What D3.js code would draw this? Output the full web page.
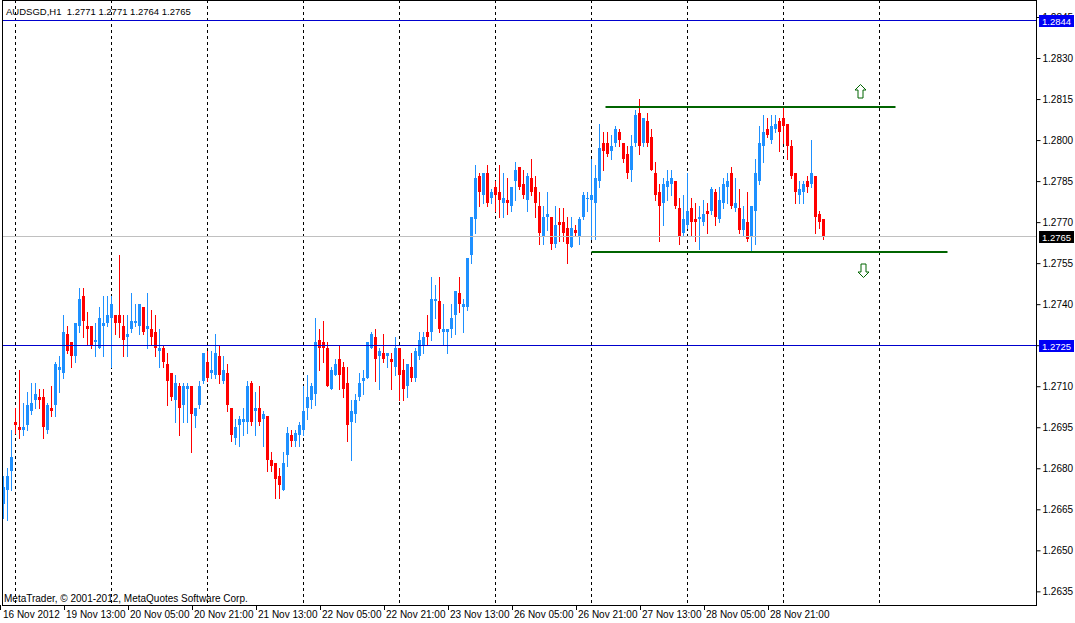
<!DOCTYPE html>
<html>
<head>
<meta charset="utf-8">
<script src="https://cdn.jsdelivr.net/npm/d3@7"></script>
<style>
  body { margin: 0; background: #fff; }
  svg { display: block; }
  text { font-family: "Liberation Sans", Arial, sans-serif; font-size: 10px; fill: #000; white-space: pre; }
</style>
</head>
<body>
<div id="chart"></div>
<script>
// AUDSGD, H1 - one value per hourly bar, first bar is 16 Nov 2012 21:00
var opens = [
  1.2667,1.2672,1.2679,1.2697,1.2695,1.2694,1.2696,1.2701,1.2705,1.2706,
  1.2706,1.2694,1.2702,1.2703,1.2716,1.2715,1.2729,1.2726,1.2721,1.2732,
  1.2743,1.2732,1.2732,1.2726,1.2724,1.2732,1.2733,1.2735,1.2736,1.2736,
  1.2732,1.2728,1.2731,1.2733,1.2732,1.2739,1.2731,1.2731,1.2730,1.2723,
  1.2724,1.2718,1.2715,1.2705,1.2710,1.2703,1.2709,1.2710,1.2699,1.2703,
  1.2712,1.2719,1.2715,1.2714,1.2721,1.2712,1.2715,1.2702,1.2691,1.2696,
  1.2697,1.2697,1.2711,1.2701,1.2702,1.2698,1.2699,1.2683,1.2682,1.2677,
  1.2672,1.2685,1.2692,1.2690,1.2692,1.2694,1.2702,1.2705,1.2707,1.2727,
  1.2726,1.2724,1.2709,1.2714,1.2720,1.2717,1.2711,1.2697,1.2700,1.2706,
  1.2712,1.2713,1.2724,1.2728,1.2721,1.2722,1.2721,1.2720,1.2717,1.2724,
  1.2716,1.2710,1.2717,1.2713,1.2721,1.2725,1.2730,1.2730,1.2741,1.2741,
  1.2730,1.2730,1.2731,1.2736,1.2744,1.2739,1.2739,1.2758,1.2771,1.2787,
  1.2780,1.2788,1.2779,1.2783,1.2781,1.2777,1.2778,1.2776,1.2785,1.2790,
  1.2784,1.2778,1.2786,1.2783,1.2776,1.2765,1.2772,1.2772,1.2762,1.2770,
  1.2770,1.2768,1.2761,1.2767,1.2765,1.2772,1.2779,1.2778,1.2777,1.2785,
  1.2799,1.2799,1.2796,1.2799,1.2803,1.2799,1.2795,1.2789,1.2799,1.2810,
  1.2799,1.2807,1.2801,1.2788,1.2781,1.2777,1.2783,1.2784,1.2785,1.2775,
  1.2766,1.2769,1.2775,1.2771,1.2771,1.2770,1.2774,1.2774,1.2781,1.2771,
  1.2777,1.2783,1.2788,1.2775,1.2775,1.2767,1.2770,1.2765,1.2774,1.2785,
  1.2798,1.2804,1.2800,1.2804,1.2807,1.2808,1.2806,1.2798,1.2788,1.2780,
  1.2781,1.2785,1.2784,1.2787,1.2773,1.2771
];
var highs = [
  1.2677,1.2680,1.2694,1.2702,1.2716,1.2704,1.2708,1.2711,1.2711,1.2709,
  1.2709,1.2704,1.2710,1.2719,1.2721,1.2736,1.2732,1.2726,1.2733,1.2746,
  1.2746,1.2737,1.2732,1.2733,1.2739,1.2743,1.2743,1.2743,1.2736,1.2758,
  1.2736,1.2736,1.2744,1.2740,1.2740,1.2739,1.2744,1.2738,1.2736,1.2731,
  1.2725,1.2722,1.2715,1.2714,1.2711,1.2711,1.2711,1.2710,1.2702,1.2712,
  1.2722,1.2723,1.2723,1.2729,1.2725,1.2721,1.2718,1.2702,1.2698,1.2699,
  1.2702,1.2712,1.2712,1.2708,1.2710,1.2701,1.2699,1.2686,1.2682,1.2680,
  1.2686,1.2695,1.2694,1.2694,1.2697,1.2710,1.2714,1.2711,1.2735,1.2731,
  1.2734,1.2726,1.2717,1.2720,1.2725,1.2719,1.2717,1.2705,1.2707,1.2715,
  1.2716,1.2726,1.2730,1.2731,1.2724,1.2729,1.2722,1.2722,1.2728,1.2724,
  1.2720,1.2718,1.2722,1.2724,1.2730,1.2730,1.2736,1.2750,1.2747,1.2750,
  1.2740,1.2731,1.2740,1.2745,1.2750,1.2742,1.2757,1.2772,1.2791,1.2788,
  1.2788,1.2791,1.2782,1.2785,1.2791,1.2788,1.2786,1.2783,1.2792,1.2790,
  1.2789,1.2788,1.2793,1.2787,1.2781,1.2776,1.2781,1.2772,1.2776,1.2775,
  1.2775,1.2772,1.2772,1.2769,1.2772,1.2781,1.2781,1.2793,1.2791,1.2806,
  1.2803,1.2803,1.2802,1.2805,1.2804,1.2799,1.2798,1.2802,1.2811,1.2815,
  1.2808,1.2810,1.2804,1.2792,1.2784,1.2786,1.2789,1.2789,1.2785,1.2779,
  1.2780,1.2788,1.2779,1.2777,1.2776,1.2778,1.2777,1.2783,1.2782,1.2783,
  1.2786,1.2788,1.2790,1.2786,1.2782,1.2776,1.2781,1.2776,1.2793,1.2805,
  1.2809,1.2808,1.2809,1.2809,1.2808,1.2812,1.2806,1.2800,1.2788,1.2785,
  1.2785,1.2787,1.2800,1.2787,1.2774,1.2771
];
var lows = [
  1.2662,1.2661,1.2672,1.2693,1.2691,1.2692,1.2694,1.2700,1.2702,1.2702,
  1.2691,1.2693,1.2699,1.2699,1.2708,1.2713,1.2722,1.2717,1.2719,1.2730,
  1.2728,1.2725,1.2724,1.2721,1.2724,1.2721,1.2732,1.2717,1.2729,1.2728,
  1.2721,1.2721,1.2730,1.2732,1.2729,1.2729,1.2724,1.2725,1.2721,1.2717,
  1.2717,1.2703,1.2705,1.2697,1.2692,1.2697,1.2697,1.2686,1.2695,1.2702,
  1.2711,1.2712,1.2713,1.2713,1.2711,1.2711,1.2701,1.2690,1.2689,1.2688,
  1.2692,1.2693,1.2696,1.2692,1.2696,1.2688,1.2679,1.2679,1.2669,1.2669,
  1.2672,1.2681,1.2688,1.2688,1.2688,1.2692,1.2698,1.2702,1.2703,1.2716,
  1.2719,1.2710,1.2709,1.2714,1.2709,1.2706,1.2690,1.2683,1.2697,1.2705,
  1.2707,1.2713,1.2724,1.2712,1.2709,1.2719,1.2717,1.2709,1.2714,1.2705,
  1.2705,1.2706,1.2712,1.2712,1.2720,1.2722,1.2725,1.2727,1.2735,1.2730,
  1.2725,1.2722,1.2728,1.2729,1.2737,1.2730,1.2738,1.2755,1.2766,1.2776,
  1.2777,1.2776,1.2777,1.2774,1.2772,1.2772,1.2773,1.2774,1.2778,1.2782,
  1.2779,1.2774,1.2780,1.2772,1.2762,1.2762,1.2767,1.2760,1.2761,1.2763,
  1.2763,1.2755,1.2761,1.2765,1.2762,1.2771,1.2774,1.2764,1.2764,1.2783,
  1.2789,1.2794,1.2793,1.2798,1.2798,1.2792,1.2786,1.2785,1.2798,1.2795,
  1.2798,1.2798,1.2789,1.2778,1.2763,1.2769,1.2778,1.2780,1.2775,1.2762,
  1.2765,1.2768,1.2765,1.2763,1.2760,1.2769,1.2766,1.2773,1.2769,1.2770,
  1.2775,1.2777,1.2775,1.2774,1.2766,1.2765,1.2763,1.2759,1.2762,1.2784,
  1.2792,1.2801,1.2799,1.2803,1.2796,1.2799,1.2793,1.2786,1.2777,1.2777,
  1.2777,1.2781,1.2783,1.2766,1.2768,1.2764
];
var closes = [
  1.2673,1.2677,1.2684,1.2696,1.2694,1.2695,1.2703,1.2704,1.2707,1.2705,
  1.2695,1.2703,1.2701,1.2718,1.2717,1.2730,1.2723,1.2721,1.2733,1.2742,
  1.2734,1.2731,1.2725,1.2727,1.2735,1.2733,1.2736,1.2740,1.2733,1.2733,
  1.2727,1.2729,1.2734,1.2734,1.2740,1.2730,1.2732,1.2728,1.2724,1.2724,
  1.2719,1.2712,1.2706,1.2711,1.2702,1.2710,1.2710,1.2700,1.2702,1.2710,
  1.2722,1.2713,1.2716,1.2722,1.2714,1.2716,1.2703,1.2692,1.2695,1.2698,
  1.2698,1.2710,1.2697,1.2702,1.2697,1.2700,1.2683,1.2681,1.2676,1.2674,
  1.2682,1.2693,1.2690,1.2693,1.2696,1.2701,1.2706,1.2710,1.2726,1.2724,
  1.2724,1.2710,1.2716,1.2718,1.2714,1.2709,1.2696,1.2701,1.2705,1.2711,
  1.2713,1.2726,1.2729,1.2720,1.2723,1.2720,1.2722,1.2719,1.2724,1.2714,
  1.2709,1.2718,1.2713,1.2723,1.2727,1.2728,1.2728,1.2742,1.2742,1.2731,
  1.2731,1.2731,1.2735,1.2745,1.2740,1.2740,1.2757,1.2772,1.2786,1.2781,
  1.2788,1.2777,1.2781,1.2780,1.2778,1.2779,1.2777,1.2783,1.2789,1.2783,
  1.2780,1.2787,1.2781,1.2777,1.2766,1.2772,1.2773,1.2762,1.2769,1.2769,
  1.2766,1.2762,1.2768,1.2766,1.2771,1.2780,1.2779,1.2780,1.2786,1.2797,
  1.2796,1.2795,1.2798,1.2804,1.2800,1.2793,1.2788,1.2798,1.2809,1.2798,
  1.2808,1.2799,1.2789,1.2780,1.2776,1.2784,1.2785,1.2786,1.2776,1.2765,
  1.2771,1.2774,1.2770,1.2770,1.2772,1.2773,1.2773,1.2782,1.2772,1.2778,
  1.2784,1.2785,1.2776,1.2777,1.2767,1.2771,1.2764,1.2776,1.2788,1.2799,
  1.2803,1.2802,1.2805,1.2806,1.2803,1.2805,1.2798,1.2787,1.2781,1.2782,
  1.2784,1.2783,1.2788,1.2772,1.2770,1.2765
];

// Axis labels
var timeLabels = ["16 Nov 2012", "19 Nov 13:00", "20 Nov 05:00", "20 Nov 21:00", "21 Nov 13:00",
                  "22 Nov 05:00", "22 Nov 21:00", "23 Nov 13:00", "26 Nov 05:00", "26 Nov 21:00",
                  "27 Nov 13:00", "28 Nov 05:00", "28 Nov 21:00"];
var timeLabelBars = [0, 16, 32, 48, 64, 80, 96, 112, 128, 144, 160, 176, 192];
var dayStartBars = [3, 27, 51, 75, 99, 123, 147, 171, 195, 219];
var priceTicks = [1.2635, 1.2650, 1.2665, 1.2680, 1.2695, 1.2710, 1.2725, 1.2740,
                  1.2755, 1.2770, 1.2785, 1.2800, 1.2815, 1.2830, 1.2845];

// Objects on the chart
var hLinePrices = [1.2844, 1.2725];
var trendPrices = [1.2812, 1.2759],
    trendFrom = [150.5, 147],
    trendTo = [223, 236];
var arrowBars = [214.1, 214.9],
    arrowPrices = [1.2818, 1.27525],
    arrowDirs = ["up", "down"];

var title = "AUDSGD,H1  1.2771 1.2771 1.2764 1.2765",
    copyright = "MetaTrader, \u00a9 2001-2012, MetaQuotes Software Corp.";

// Size
var W = 1075, H = 623,
    plot = {left: 2, right: 1036, top: 0, bottom: 605};

// Colors
var colors = {bull: "#1e90ff", bear: "#ff0000", line: "#0000cd", box: "#0000f5",
              bid: "#c0c0c0", trend: "#006400", grid: "#000"};

var bars = opens.map(function(o, i) {
  return {i: i, o: o, h: highs[i], l: lows[i], c: closes[i]};
});

var x = d3.scaleLinear().domain([0, 258]).range([3.5, 1035.5]);
var y = d3.scaleLinear().domain([1.2635, 1.2845]).range([591.35, 17.0]);

var svg = d3.select("#chart").append("svg")
  .attr("width", W)
  .attr("height", H);

svg.append("defs").append("clipPath")
  .attr("id", "plot-clip")
  .append("rect")
    .attr("x", plot.left)
    .attr("y", plot.top)
    .attr("width", plot.right - plot.left)
    .attr("height", plot.bottom - plot.top);

var area = svg.append("g").attr("clip-path", "url(#plot-clip)");

// Day separators
area.selectAll(".grid")
  .data(dayStartBars)
  .enter().append("line")
    .attr("class", "grid")
    .attr("x1", function(d) { return x(d); })
    .attr("x2", function(d) { return x(d); })
    .attr("y1", plot.top)
    .attr("y2", plot.bottom)
    .attr("stroke", colors.grid)
    .attr("stroke-width", 1)
    .attr("stroke-dasharray", "3,3")
    .attr("shape-rendering", "crispEdges");

// Candles
var candle = area.selectAll(".candle")
  .data(bars)
  .enter().append("g")
    .attr("class", "candle")
    .attr("fill", function(d) { return d.c >= d.o ? colors.bull : colors.bear; });

candle.append("rect")
  .attr("x", function(d) { return x(d.i) - 0.5; })
  .attr("width", 1)
  .attr("y", function(d) { return Math.round(y(d.h)); })
  .attr("height", function(d) { return Math.round(y(d.l)) - Math.round(y(d.h)) + 1; })
  .attr("shape-rendering", "crispEdges");

candle.append("rect")
  .attr("x", function(d) { return x(d.i) - 1.5; })
  .attr("width", 3)
  .attr("y", function(d) { return Math.round(y(Math.max(d.o, d.c))); })
  .attr("height", function(d) {
    return Math.max(1, Math.round(y(Math.min(d.o, d.c))) - Math.round(y(Math.max(d.o, d.c))));
  })
  .attr("shape-rendering", "crispEdges");

// Horizontal lines and bid line
area.selectAll(".hline")
  .data(hLinePrices)
  .enter().append("line")
    .attr("class", "hline")
    .attr("x1", plot.left).attr("x2", plot.right)
    .attr("y1", function(d) { return Math.round(y(d)) + 0.5; })
    .attr("y2", function(d) { return Math.round(y(d)) + 0.5; })
    .attr("stroke", colors.line);

var bid = closes[closes.length - 1];
area.append("line")
  .attr("x1", plot.left).attr("x2", plot.right)
  .attr("y1", Math.round(y(bid)) + 0.5)
  .attr("y2", Math.round(y(bid)) + 0.5)
  .attr("stroke", colors.bid);

// Trend lines
area.selectAll(".trend")
  .data(trendPrices)
  .enter().append("line")
    .attr("class", "trend")
    .attr("x1", function(d, i) { return x(trendFrom[i]); })
    .attr("x2", function(d, i) { return x(trendTo[i]); })
    .attr("y1", function(d) { return Math.round(y(d)); })
    .attr("y2", function(d) { return Math.round(y(d)); })
    .attr("stroke", colors.trend)
    .attr("stroke-width", 2);

// Arrows
var arrowPath = "M0,-7L5.5,-1.5L2.5,-1.5L2.5,6.5L-2.5,6.5L-2.5,-1.5L-5.5,-1.5Z";
area.selectAll(".arrow")
  .data(arrowPrices)
  .enter().append("path")
    .attr("class", "arrow")
    .attr("d", arrowPath)
    .attr("transform", function(d, i) {
      var s = arrowDirs[i] == "up" ? 1 : -1;
      return "translate(" + (Math.round(x(arrowBars[i])) + 0.5) + "," + (Math.round(y(d)) + 0.5) + ") scale(1," + s + ")";
    })
    .attr("fill", "#fff")
    .attr("stroke", colors.trend)
    .attr("stroke-width", 1);

// Frame
svg.append("rect")
  .attr("x", plot.left + 0.5)
  .attr("y", plot.top + 0.5)
  .attr("width", plot.right - plot.left)
  .attr("height", plot.bottom - plot.top)
  .attr("fill", "none")
  .attr("stroke", "#000");

// Price scale
var priceAxis = svg.append("g")
  .attr("transform", "translate(" + (plot.right + 0.5) + ",0)")
  .call(d3.axisRight(y)
    .tickValues(priceTicks)
    .tickSize(4)
    .tickPadding(2)
    .tickFormat(d3.format(".4f")));
priceAxis.select(".domain").remove();
priceAxis.selectAll("line").attr("stroke", "#000");
priceAxis.selectAll("text")
  .attr("font-family", "Liberation Sans, Arial, sans-serif")
  .attr("font-size", 9.5)
  .attr("fill", "#000");

// Time scale
var timeAxis = svg.append("g")
  .attr("class", "time-axis");

timeAxis.selectAll("line")
  .data(timeLabelBars)
  .enter().append("line")
    .attr("x1", function(d) { return Math.round(x(d)) - 3.5; })
    .attr("x2", function(d) { return Math.round(x(d)) - 3.5; })
    .attr("y1", plot.bottom)
    .attr("y2", plot.bottom + 5)
    .attr("stroke", "#000");

timeAxis.selectAll("text")
  .data(timeLabels)
  .enter().append("text")
    .attr("x", function(d, i) { return i == 0 ? plot.left + 1 : Math.round(x(timeLabelBars[i])) - 2; })
    .attr("y", 618)
    .text(function(d) { return d; });

// Price labels of the lines
var boxes = hLinePrices.map(function(p) { return {p: p, fill: colors.box}; })
  .concat([{p: bid, fill: "#000"}]);

var box = svg.selectAll(".pbox")
  .data(boxes)
  .enter().append("g")
    .attr("class", "pbox")
    .attr("transform", function(d) { return "translate(" + (plot.right + 3) + "," + Math.round(y(d.p)) + ")"; });

box.append("rect")
  .attr("x", 0)
  .attr("y", -5)
  .attr("width", 35)
  .attr("height", 12)
  .attr("fill", function(d) { return d.fill; });

box.append("text")
  .attr("x", 3)
  .attr("y", 5)
  .style("fill", "#fff")
  .style("font-size", "9.5px")
  .text(function(d) { return d3.format(".4f")(d.p); });

// Title and copyright
svg.append("text")
  .attr("x", 6)
  .attr("y", 15)
  .style("font-size", "9.5px")
  .text(title);

svg.append("text")
  .attr("x", 4)
  .attr("y", 602)
  .text(copyright);
</script>
</body>
</html>
